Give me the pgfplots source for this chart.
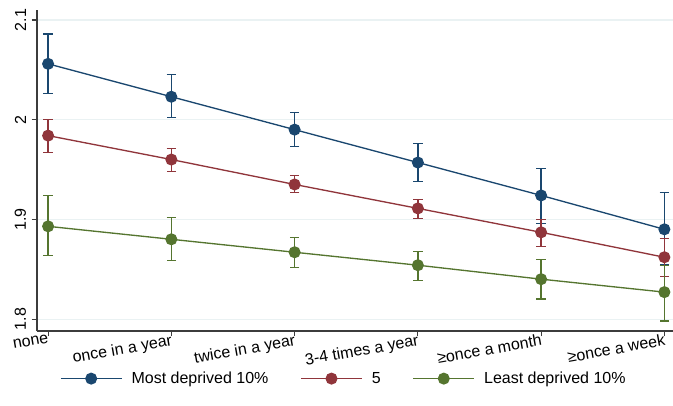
\documentclass[border=0pt]{standalone}
\usepackage{pgfplots}
\pgfplotsset{compat=1.18}
\usepackage{fontspec}
\setmainfont{Liberation Sans}

\definecolor{navy}{RGB}{26,71,111}
\definecolor{maroon}{RGB}{144,53,59}
\definecolor{forest}{RGB}{85,117,47}
\definecolor{gridc}{RGB}{234,242,243}
\definecolor{axisc}{RGB}{60,60,60}

\begin{document}
\begin{tikzpicture}
\useasboundingbox (-27.75pt,-55.5pt) rectangle (477pt,248.25pt);
\begin{axis}[
scale only axis,
width=477pt, height=240.75pt,
font=\fontsize{12}{14}\selectfont,
/pgf/number format/assume math mode=true,
axis lines*=left,
axis line style={axisc, line width=0.8pt},
tick align=outside,
tick style={axisc, line width=0.8pt},
major tick length=4pt,
xmin=-0.09, xmax=5.07,
ymin=1.788, ymax=2.11,
xtick={0,1,2,3,4,5},
xticklabels={none, once in a year, twice in a year, 3-4 times a year, ≥once a month, ≥once a week},
xticklabel style={rotate=10, anchor=north east, inner sep=0pt, yshift=2pt},
ytick={1.8,1.9,2,2.1},
yticklabels={1.8,1.9,2,2.1},
yticklabel style={rotate=90, anchor=south, inner sep=4pt},
ymajorgrids,
y grid style={gridc, line width=0.8pt},
legend columns=3,
legend style={draw=none, fill=none, at={(0.483,-0.118)}, anchor=north, inner sep=0pt,
  /tikz/every odd column/.append style={column sep=5pt},
  /tikz/every even column/.append style={column sep=22pt}},
legend cell align=left,
legend image code/.code={
  \draw[mark repeat=2, mark phase=2] plot coordinates {(0cm,0cm) (0.8cm,0cm) (1.6cm,0cm)};
},
every axis plot/.append style={line width=1pt, mark=*, mark size=4pt,
  error bars/y dir=both, error bars/y explicit,
  error bars/error bar style={line width=1pt},
  error bars/error mark options={rotate=90, mark size=3.5pt, line width=1pt}},
]
\addplot [navy, mark options={fill=navy}] table [x=x, y=y, y error plus=ep, y error minus=em] {
x y ep em
0 2.056 0.030 0.030
1 2.023 0.022 0.021
2 1.990 0.017 0.017
3 1.957 0.019 0.019
4 1.924 0.027 0.028
5 1.890 0.037 0.035
};
\addlegendentry{Most deprived 10\%}
\addplot [maroon, mark options={fill=maroon}] table [x=x, y=y, y error plus=ep, y error minus=em] {
x y ep em
0 1.984 0.016 0.017
1 1.960 0.011 0.012
2 1.935 0.009 0.008
3 1.911 0.009 0.010
4 1.887 0.013 0.014
5 1.862 0.019 0.019
};
\addlegendentry{5}
\addplot [forest, mark options={fill=forest}] table [x=x, y=y, y error plus=ep, y error minus=em] {
x y ep em
0 1.893 0.031 0.029
1 1.880 0.022 0.021
2 1.867 0.015 0.015
3 1.854 0.014 0.015
4 1.840 0.020 0.020
5 1.827 0.027 0.029
};
\addlegendentry{Least deprived 10\%}
\end{axis}
\end{tikzpicture}
\end{document}
